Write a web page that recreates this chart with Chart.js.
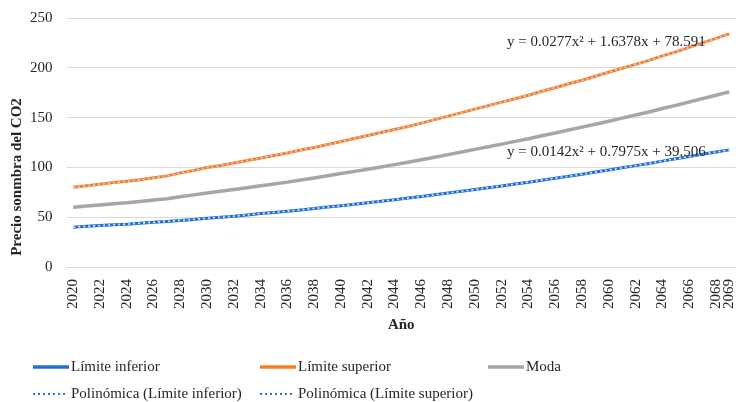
<!DOCTYPE html>
<html>
<head>
<meta charset="utf-8">
<script src="https://cdn.jsdelivr.net/npm/chart.js@4.4.1/dist/chart.umd.min.js"></script>
<style>
  html, body { margin: 0; padding: 0; background: #fff; }
  #wrap { width: 736px; height: 402px; }
</style>
</head>
<body>
<div id="wrap"><canvas id="chart" width="736" height="402"></canvas></div>
<script>
const years = ["2020","2021","2022","2023","2024","2025","2026","2027","2028","2029",
  "2030","2031","2032","2033","2034","2035","2036","2037","2038","2039",
  "2040","2041","2042","2043","2044","2045","2046","2047","2048","2049",
  "2050","2051","2052","2053","2054","2055","2056","2057","2058","2059",
  "2060","2061","2062","2063","2064","2065","2066","2067","2068","2069"];

const lower = [40.0,40.8,41.6,42.4,43.0,44.0,44.9,45.8,46.6,47.8,
  49.0,50.0,51.0,52.3,53.6,54.8,56.0,57.3,58.8,60.2,
  61.6,63.0,64.5,66.0,67.5,69.2,70.8,72.5,74.2,76.0,
  77.8,79.6,81.4,83.3,85.2,87.2,89.2,91.2,93.2,95.3,
  97.4,99.6,101.8,104.0,106.3,108.6,110.9,113.2,115.4,117.6];

const upper = [80.0,81.5,83.0,84.8,86.0,87.5,89.5,91.5,94.5,97.0,
  99.8,102.0,104.5,107.0,109.5,112.0,114.5,117.5,120.0,123.0,
  126.0,129.0,132.0,135.0,138.0,141.0,144.5,148.0,151.5,155.0,
  158.5,162.0,165.5,169.0,172.5,176.5,180.0,184.0,187.5,191.5,
  195.5,199.5,203.5,207.5,212.0,216.0,220.5,225.0,229.5,234.0];

const moda = [60.0,61.2,62.3,63.6,64.5,65.8,67.2,68.6,70.5,72.4,
  74.4,76.0,77.8,79.6,81.5,83.4,85.2,87.4,89.4,91.6,
  93.8,96.0,98.2,100.5,102.8,105.1,107.6,110.2,112.8,115.5,
  118.1,120.8,123.4,126.1,128.8,131.8,134.6,137.6,140.4,143.4,
  146.4,149.5,152.6,155.7,159.1,162.3,165.7,169.1,172.4,175.8];

const yTicks = [0, 50, 100, 150, 200, 250];

const equations = [
  "y = 0.0277x\u00B2 + 1.6378x + 78.591",
  "y = 0.0142x\u00B2 + 0.7975x + 39.506"
];

const FONT = "'Liberation Serif', 'Times New Roman', serif";
const TEXT = "#262626";

// no extra room for first/last rotated labels
function noPad(scale) {
  scale.paddingLeft = 0;
  scale.paddingRight = 0;
  scale.paddingTop = 0;
  scale.paddingBottom = 0;
}

// draws y title, trendline equations and the legend grid
const extras = {
  id: "extras",
  afterDraw(chart) {
    const ctx = chart.ctx;
    ctx.save();
    ctx.fillStyle = TEXT;

    // y axis title
    ctx.font = "bold 15px " + FONT;
    ctx.translate(17, 177);
    ctx.rotate(-Math.PI / 2);
    ctx.textAlign = "center";
    ctx.textBaseline = "middle";
    ctx.fillText("Precio sonmbra del CO2", 0, 0);
    ctx.setTransform(1, 0, 0, 1, 0, 0);

    // equations
    ctx.font = "15px " + FONT;
    ctx.textAlign = "left";
    ctx.fillText(equations[0], 507, 42);
    ctx.fillText(equations[1], 507, 152);

    // legend
    const items = [
      { ds: 0, x: 33, y: 367 }, { ds: 1, x: 260, y: 367 }, { ds: 2, x: 488, y: 367 },
      { ds: 3, x: 33, y: 394 }, { ds: 4, x: 260, y: 394 }
    ];
    items.forEach(it => {
      const d = chart.data.datasets[it.ds];
      ctx.beginPath();
      if (d.borderDash) {
        ctx.setLineDash([2, 3]);
        ctx.lineWidth = 2;
        ctx.strokeStyle = "#2f75c9";
        ctx.moveTo(it.x, it.y);
        ctx.lineTo(it.x + 34, it.y);
      } else {
        ctx.setLineDash([]);
        ctx.lineWidth = 3.5;
        ctx.strokeStyle = d.borderColor;
        ctx.moveTo(it.x, it.y);
        ctx.lineTo(it.x + 36, it.y);
      }
      ctx.stroke();
      ctx.setLineDash([]);
      ctx.fillStyle = TEXT;
      ctx.textBaseline = "middle";
      ctx.fillText(d.label, it.x + 38, it.y);
    });
    ctx.restore();
  }
};

new Chart(document.getElementById("chart"), {
  type: "line",
  data: {
    labels: years,
    datasets: [
      { label: "Límite inferior", data: lower, borderColor: "#1f6fd4", borderWidth: 3, pointRadius: 0, order: 2 },
      { label: "Límite superior", data: upper, borderColor: "#fd7e22", borderWidth: 3, pointRadius: 0, order: 2 },
      { label: "Moda", data: moda, borderColor: "#a6a6a6", borderWidth: 3.5, pointRadius: 0, order: 2 },
      { label: "Polinómica (Límite inferior)", data: lower, borderColor: "#d3e2f3", borderWidth: 1.8, borderDash: [2, 3], pointRadius: 0, order: 1 },
      { label: "Polinómica (Límite superior)", data: upper, borderColor: "#bfd2e8", borderWidth: 1.8, borderDash: [2, 3], pointRadius: 0, order: 1 }
    ]
  },
  options: {
    responsive: false,
    animation: false,
    devicePixelRatio: 1,
    layout: { padding: { left: 16, right: 0, top: 18, bottom: 68 } },
    plugins: { legend: { display: false }, tooltip: { enabled: false } },
    scales: {
      x: {
        offset: true,
        afterFit: noPad,
        grid: { display: false },
        border: { color: "#d9d9d9" },
        ticks: {
          autoSkip: false,
          maxRotation: 90,
          minRotation: 90,
          padding: 4,
          color: TEXT,
          font: { family: FONT, size: 15 },
          callback: (v, i) => (i % 2 === 0 || i === years.length - 1) ? years[i] : ""
        },
        title: { display: true, text: "Año", color: TEXT, padding: { top: 3, bottom: 0 }, font: { family: FONT, size: 15, weight: "bold" } }
      },
      y: {
        min: yTicks[0],
        max: yTicks[yTicks.length - 1],
        afterFit: noPad,
        afterBuildTicks: axis => { axis.ticks = yTicks.map(v => ({ value: v })); },
        grid: { color: "#d9d9d9", drawTicks: false },
        border: { display: false },
        ticks: { padding: 14, color: TEXT, font: { family: FONT, size: 15 } }
      }
    }
  },
  plugins: [extras]
});
</script>
</body>
</html>
